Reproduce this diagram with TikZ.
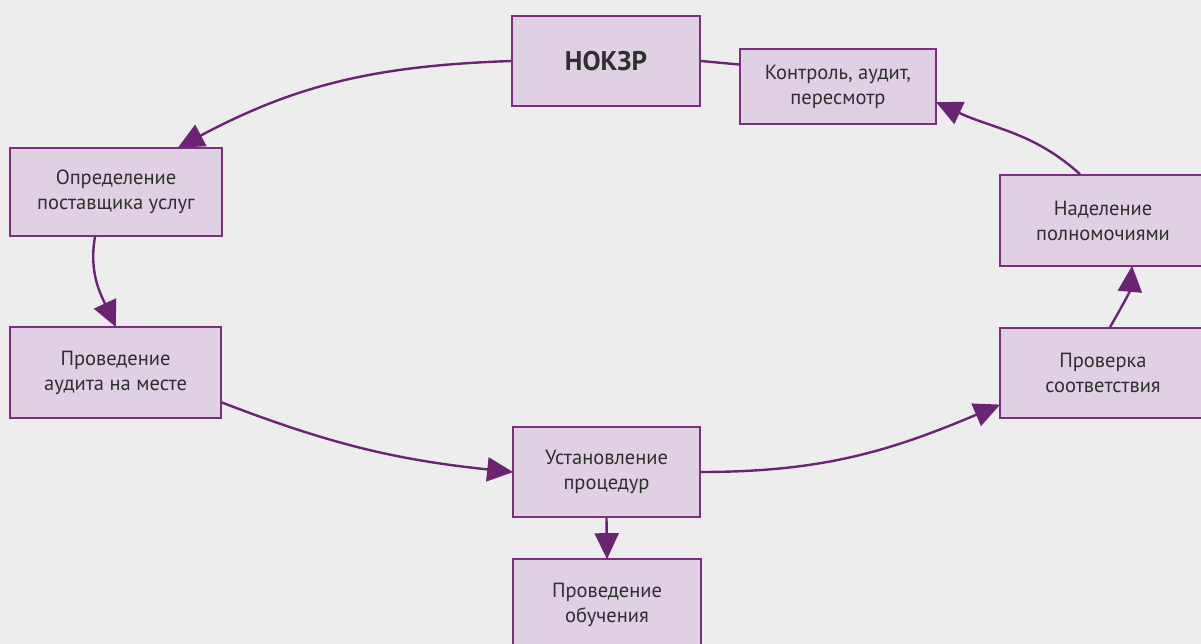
\documentclass[tikz,border=0pt]{standalone}
\usepackage{fontspec}
\setmainfont{PT Sans}
\usetikzlibrary{arrows.meta}

\definecolor{boxfill}{HTML}{DFD1E3}
\definecolor{boxline}{HTML}{7D2E7F}
\definecolor{arrowcol}{HTML}{6B2473}
\definecolor{textcol}{HTML}{2F2F2F}
\definecolor{pagebg}{HTML}{EDEDED}

\tikzset{
  stage/.style={rectangle, draw=boxline, line width=1.7pt, fill=boxfill,
    text=textcol, align=center, inner sep=0pt,
    font=\fontsize{20.5}{25}\selectfont},
  flow/.style={draw=arrowcol, line width=2.4pt,
    -{Triangle[length=26pt,width=24pt]}, shorten >=-1pt}
}

\begin{document}
\begin{tikzpicture}[x=1pt,y=1pt]
    \fill[pagebg] (0,0) rectangle (1201,-644);
    \useasboundingbox (0,0) rectangle (1201,-644);
    \clip (0,0) rectangle (1201,-644);

    \node(nokzr)[stage,minimum width=188pt,minimum height=90pt,font=\fontsize{27}{30}\selectfont\bfseries] at (606,-61) {НОКЗР};
    \node(control)[stage,minimum width=196pt,minimum height=75pt] at (838,-86.5) {Контроль, аудит,\\пересмотр};
    \node(opred)[stage,minimum width=212pt,minimum height=88pt] at (116,-192) {Определение\\поставщика услуг};
    \node(audit)[stage,minimum width=211pt,minimum height=91pt] at (115.5,-372.5) {Проведение\\аудита на месте};
    \node(ustan)[stage,minimum width=187pt,minimum height=90pt] at (606.5,-472) {Установление\\процедур};
    \node(obuch)[stage,minimum width=188pt,minimum height=92pt] at (607,-605) {Проведение\\обучения};
    \node(nadel)[stage,minimum width=206pt,minimum height=91pt] at (1103,-220.5) {Наделение\\полномочиями};
    \node(prov)[stage,minimum width=206pt,minimum height=90pt] at (1103,-373) {Проверка\\соответствия};

    \draw[arrowcol, line width=2.4pt] (nokzr.east) -- ([yshift=22pt]control.west);
    \draw[flow] (nokzr.west) to[out=182,in=28] ([xshift=-44pt]opred.north east);
    \draw[flow] ([xshift=-21pt]opred.south) to[out=-100,in=115] (audit.north);
    \draw[flow] ([yshift=-30pt]audit.east) to[out=-21,in=174] (ustan.west);
    \draw[flow] (ustan.east) to[out=0,in=203] ([yshift=-32pt]prov.west);
    \draw[flow] ([xshift=7pt]prov.north) to[out=60,in=-95] ([xshift=29pt]nadel.south);
    \draw[flow] ([xshift=-23pt]nadel.north) to[out=138,in=-25] ([yshift=-16pt]control.east);
    \draw[flow] (ustan.south) -- (obuch.north);
\end{tikzpicture}
\end{document}
